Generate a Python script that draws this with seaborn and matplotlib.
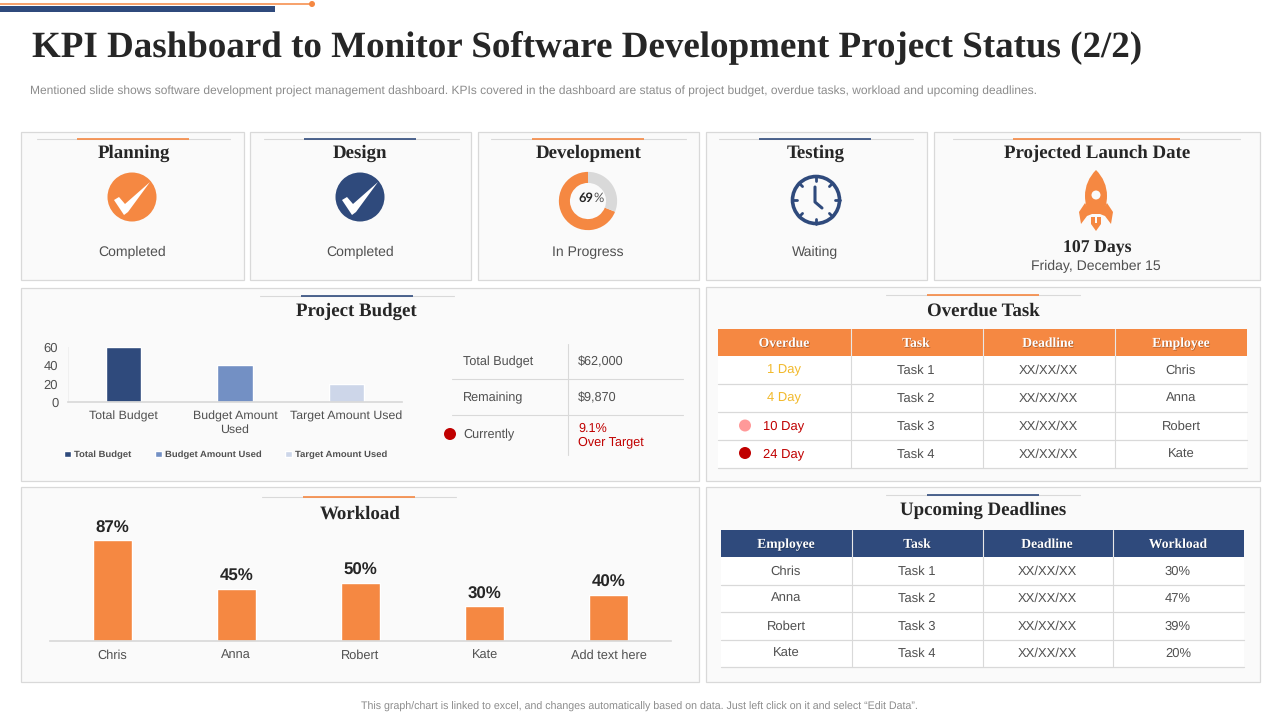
"""
plot.py - KPI dashboard slide for software project status
"""

import numpy as np
import pandas as pd
import matplotlib
matplotlib.use("Agg")
import matplotlib.pyplot as plt
import matplotlib.patheffects as pe
from matplotlib.patches import Rectangle, Circle, Polygon, PathPatch
from matplotlib.path import Path
import seaborn as sns

ORANGE = "#F58842"
NAVY = "#2F4A7C"
MID_BLUE = "#7390C4"
PALE_BLUE = "#CDD6E9"
RED = "#C00000"
PINK = "#FF9999"
YELLOW = "#F2B92B"
GREY_TEXT = "#505050"
DARK = "#262626"
EDGE = "#D9D9D9"

# status cards
stage_names = ["Planning", "Design", "Development", "Testing", "Projected Launch Date"]
stage_status = ["Completed", "Completed", "In Progress", "Waiting"]
dev_progress = [69, 31]
launch_days = "107 Days"
launch_date = "Friday, December 15"

# project budget
budget_names = ["Total Budget", "Budget Amount Used", "Target Amount Used"]
budget_values = [60, 40, 20]
budget_ticks = [0, 20, 40, 60]
budget_rows = ["Total Budget", "Remaining", "Currently"]
budget_amounts = ["$62,000", "$9,870", "9.1%\nOver Target"]

# workload
workload_names = ["Chris", "Anna", "Robert", "Kate", "Add text here"]
workload_values = [87, 45, 50, 30, 40]

# overdue table
overdue_head = ["Overdue", "Task", "Deadline", "Employee"]
overdue_days = ["1 Day", "4 Day", "10 Day", "24 Day"]
overdue_tasks = ["Task 1", "Task 2", "Task 3", "Task 4"]
overdue_dates = ["XX/XX/XX", "XX/XX/XX", "XX/XX/XX", "XX/XX/XX"]
overdue_people = ["Chris", "Anna", "Robert", "Kate"]

# upcoming table
upcoming_head = ["Employee", "Task", "Deadline", "Workload"]
upcoming_people = ["Chris", "Anna", "Robert", "Kate"]
upcoming_tasks = ["Task 1", "Task 2", "Task 3", "Task 4"]
upcoming_dates = ["XX/XX/XX", "XX/XX/XX", "XX/XX/XX", "XX/XX/XX"]
upcoming_load = ["30%", "47%", "39%", "20%"]

sns.set_theme(style="white")
plt.rcParams["font.family"] = ["Liberation Sans", "DejaVu Sans"]
plt.rcParams["text.hinting"] = "no_hinting"
SERIF = ["Liberation Serif", "DejaVu Serif"]

fig = plt.figure(figsize=(12.8, 7.2), dpi=100, facecolor="white")

# whole slide axes, one data unit is one pixel
bg = fig.add_axes([0, 0, 1, 1], zorder=0)
bg.set_xlim(0, 1280)
bg.set_ylim(720, 0)
bg.axis("off")


def inset(x, y, w, h):
    ax = fig.add_axes([x / 1280, 1 - (y + h) / 720, w / 1280, h / 720], zorder=2)
    ax.patch.set_alpha(0)
    return ax


def panel(x0, y0, x1, y1):
    bg.add_patch(Rectangle((x0, y0), x1 - x0, y1 - y0, fc="#FAFAFA", ec=EDGE, lw=0.9))


def rule(x0, x1, c0, c1, y, color):
    bg.plot([x0, x1], [y, y], color=EDGE, lw=0.8)
    bg.plot([c0, c1], [y, y], color=color, lw=1.2, solid_capstyle="butt")


def label(x, y, s, size=9.4, color=GREY_TEXT, ha="center", **kw):
    # baseline placement keeps rows level whatever the letters are
    bg.text(x, y + 0.45 * size, s, fontsize=size, color=color, ha=ha, va="baseline", **kw)


def heading(x, y, s, size=13.6):
    bg.text(x, y + 1, s, fontsize=size, color=DARK, ha="center", va="center",
            family=SERIF, fontweight="bold")


def check_badge(cx, cy, color):
    bg.add_patch(Circle((cx, cy), 24.5, fc=color, ec="none"))
    tick = np.array([(-18, 3), (-13, 0), (-7, 7), (18, -15), (-4, 15), (-8, 18)])
    bg.add_patch(Polygon(tick + [cx, cy], fc="white", ec="none"))


def table(x0, x1, cols, head_y0, head_y1, row_lines, row_ys, centers, head, columns, fill):
    bg.add_patch(Rectangle((x0, row_lines[0]), x1 - x0, row_lines[-1] - row_lines[0], fc="white", ec="none"))
    bg.add_patch(Rectangle((x0, head_y0), x1 - x0, head_y1 - head_y0, fc=fill, ec="none"))
    for y in row_lines[1:]:
        bg.plot([x0, x1], [y, y], color=EDGE, lw=0.9)
    for x in cols:
        bg.plot([x, x], [head_y0, head_y1], color="#E8E8E8", lw=0.8)
        bg.plot([x, x], [head_y1, row_lines[-1]], color=EDGE, lw=0.8)
    for cx, s in zip(centers, head):
        t = bg.text(cx, (head_y0 + head_y1) / 2 + 1, s, fontsize=9.8, color="white", ha="center",
                    va="center", family=SERIF, fontweight="bold")
        t.set_path_effects([pe.withSimplePatchShadow(offset=(0.5, -0.5), alpha=0.35, shadow_rgbFace="black")])
    for cx, col in zip(centers, columns):
        for ry, s in zip(row_ys, col):
            label(cx, ry, s)


# slide header
bg.plot([0, 312], [4, 4], color=ORANGE, lw=1.1)
bg.add_patch(Circle((312, 4), 3, fc=ORANGE, ec="none"))
bg.add_patch(Rectangle((0, 6), 275, 6, fc=NAVY, ec="none"))
bg.text(32, 47.5, "KPI Dashboard to Monitor Software Development Project Status (2/2)",
        fontsize=26.65, color=DARK, family=SERIF, fontweight="bold", va="center")
label(30, 91, "Mentioned slide shows software development project management dashboard. KPIs covered "
      "in the dashboard are status of project budget, overdue tasks, workload and upcoming deadlines.",
      size=8.64, color="#8C8C8C", ha="left")
label(639, 706, "This graph/chart is linked to excel, and changes automatically based on data. "
      "Just left click on it and select \u201cEdit Data\u201d.", size=7.7, color="#8C8C8C")

# panels
panel(21, 132, 244, 280)
panel(250, 132, 471, 280)
panel(478, 132, 699, 280)
panel(706, 132, 927, 280)
panel(934, 132, 1260, 280)
panel(21, 288, 699, 481)
panel(706, 287, 1260, 481)
panel(21, 487, 699, 682)
panel(706, 487, 1260, 682)

rule(37, 230, 77, 189, 139, ORANGE)
rule(264, 459, 304, 416, 139, NAVY)
rule(491, 686, 532, 644, 139, ORANGE)
rule(719, 913, 759, 871, 139, NAVY)
rule(953, 1240, 1013, 1180, 139, ORANGE)
rule(260, 454, 301, 413, 296, NAVY)
rule(886, 1080, 927, 1039, 295, ORANGE)
rule(886, 1080, 927, 1039, 495, NAVY)
rule(262, 456, 303, 415, 497, ORANGE)

# status cards
for cx, s in zip([133.5, 360, 588.5, 816, 1097], stage_names):
    heading(cx, 152.5, s)
for cx, s in zip([132, 360, 588, 815.5], stage_status):
    label(cx, 252, s, size=10.1)

check_badge(132, 197, ORANGE)
check_badge(360, 197, NAVY)

donut = inset(558, 171, 60, 60)
donut.pie(dev_progress, colors=[ORANGE, "#D9D9D9"], startangle=90, counterclock=True, radius=1.0,
          wedgeprops=dict(width=0.38, linewidth=0))
donut.set_xlim(-1.03, 1.03)
donut.set_ylim(-1.03, 1.03)
donut.text(593.5, 198.5, "69", transform=bg.transData, fontsize=9.3, color=DARK, fontweight="bold",
           ha="right", va="center", family=["Lato", "DejaVu Sans"])
donut.text(593.5, 198.5, "%", transform=bg.transData, fontsize=9.3, color=GREY_TEXT,
           ha="left", va="center", family=["Lato", "DejaVu Sans"])

# clock
bg.add_patch(Circle((816, 200), 23.5, fc="none", ec=NAVY, lw=2.6))
for ang in np.arange(0, 360, 45):
    a = np.radians(ang)
    bg.plot([816 + 24 * np.sin(a), 816 + 19 * np.sin(a)], [200 - 24 * np.cos(a), 200 - 19 * np.cos(a)],
            color=NAVY, lw=2, solid_capstyle="round")
bg.plot([815, 815, 822], [187, 202, 208], color=NAVY, lw=2.2, solid_capstyle="round", solid_joinstyle="round")

# rocket
body = Path([(1096, 170), (1103, 177), (1107, 186), (1107, 196), (1107, 203), (1105, 210), (1103, 214),
             (1089, 214), (1087, 210), (1085, 203), (1085, 196), (1085, 186), (1089, 177), (1096, 170)],
            [Path.MOVETO, Path.CURVE4, Path.CURVE4, Path.CURVE4, Path.CURVE4, Path.CURVE4, Path.CURVE4,
             Path.LINETO, Path.CURVE4, Path.CURVE4, Path.CURVE4, Path.CURVE4, Path.CURVE4, Path.CURVE4])
bg.add_patch(PathPatch(body, fc=ORANGE, ec="none"))
bg.add_patch(Polygon([(1085, 203), (1079, 212), (1081, 224), (1087, 216), (1092, 214)], fc=ORANGE, ec="none"))
bg.add_patch(Polygon([(1107, 203), (1113, 212), (1111, 224), (1105, 216), (1100, 214)], fc=ORANGE, ec="none"))
bg.add_patch(Polygon([(1091, 217), (1101, 217), (1101, 224), (1096, 231), (1091, 224)], fc=ORANGE, ec="none"))
bg.add_patch(Rectangle((1095, 217), 2, 6, fc="#FAFAFA", ec="none"))
bg.add_patch(Circle((1096, 195), 4.5, fc="#FAFAFA", ec="none"))
heading(1097, 246.5, launch_days, size=12.8)
label(1095.5, 266, launch_date, size=10.1)

# project budget chart
heading(356.5, 310.5, "Project Budget")
budget_df = pd.DataFrame({"name": budget_names, "value": budget_values})
ax = inset(68, 347, 334, 55)
sns.barplot(data=budget_df, x="name", y="value", hue="name", palette=[NAVY, MID_BLUE, PALE_BLUE],
            width=0.315, saturation=1, dodge=False, legend=True, ax=ax)
ax.set_ylim(0, 60)
ax.set_yticks(budget_ticks)
ax.set_xlim(-0.5, 2.5)
ax.set_xticks(range(3))
ax.set_xticklabels(["Total Budget", "Budget Amount\nUsed", "Target Amount Used"], linespacing=1.25)
ax.set_xlabel("")
ax.set_ylabel("")
ax.tick_params(axis="x", length=0, labelsize=8.9, labelcolor=GREY_TEXT, pad=6)
ax.tick_params(axis="y", length=0, labelsize=9.4, labelcolor=GREY_TEXT, pad=7)
sns.despine(ax=ax, top=True, right=True)
ax.spines["left"].set_color("#F0F0F0")
ax.spines["left"].set_linewidth(0.7)
ax.spines["bottom"].set_color(EDGE)
ax.legend(loc="center left", bbox_to_anchor=(-0.025, -0.96), ncol=3, frameon=False,
          handlelength=0.7, handleheight=0.7, handletextpad=0.35, columnspacing=2.5, borderpad=0,
          labelcolor=GREY_TEXT, prop={"weight": "bold", "size": 6.8})

# budget side table
bg.plot([568, 568], [344, 455], color=EDGE, lw=0.8)
bg.plot([452, 683], [379, 379], color=EDGE, lw=0.8)
bg.plot([452, 683], [415, 415], color=EDGE, lw=0.8)
for ry, s in zip([361.5, 397.5, 434], budget_rows):
    label(463, ry, s, size=9.1, ha="left")
label(578, 361.5, budget_amounts[0], size=9.1, ha="left")
label(578, 397.5, budget_amounts[1], size=9.1, ha="left")
bg.text(578, 435, budget_amounts[2], fontsize=9.1, color=RED, ha="left", va="center", linespacing=1.15)
bg.add_patch(Circle((450, 434), 6, fc=RED, ec="none"))

# workload chart
heading(360, 513.5, "Workload")
workload_df = pd.DataFrame({"name": workload_names, "value": workload_values})
ax2 = inset(50, 525, 621, 116)
sns.barplot(data=workload_df, x="name", y="value", color=ORANGE, width=0.315, saturation=1, ax=ax2)
ax2.set_ylim(0, 100)
ax2.set_xlim(-0.5, 4.5)
ax2.set_xlabel("")
ax2.set_ylabel("")
ax2.set_yticks([])
ax2.tick_params(axis="x", length=0, labelsize=9.2, labelcolor=GREY_TEXT, pad=13)
for tick_text in ax2.get_xticklabels():
    tick_text.set_verticalalignment("baseline")
sns.despine(ax=ax2, left=True, top=True, right=True)
ax2.spines["bottom"].set_color(EDGE)
ax2.bar_label(ax2.containers[0], fmt="%g%%", padding=3, fontsize=12.2, fontweight="bold", color=DARK)

# overdue table
heading(983.5, 310.5, "Overdue Task")
table(718, 1247, [850.5, 982.5, 1115], 329, 356, [356, 384, 412, 440, 468], [369.5, 397.5, 425.5, 453.5],
      [784, 916, 1048, 1181], overdue_head, [[""] * 4, overdue_tasks, overdue_dates, overdue_people], ORANGE)
for ry, s, col in zip([369.5, 397.5, 425.5, 453.5], overdue_days, [YELLOW, YELLOW, RED, RED]):
    label(784, ry, s, color=col)
bg.add_patch(Circle((745, 425.5), 6, fc=PINK, ec="none"))
bg.add_patch(Circle((745, 453), 6, fc=RED, ec="none"))

# upcoming table
heading(983.5, 509.5, "Upcoming Deadlines")
table(721, 1244, [852, 982.5, 1113], 530, 557, [557, 584.5, 612, 639.5, 667], [570.5, 597.5, 625.5, 652.5],
      [786, 917, 1047, 1178], upcoming_head, [upcoming_people, upcoming_tasks, upcoming_dates, upcoming_load], NAVY)

fig.savefig("out.png", dpi=100)
plt.close(fig)
